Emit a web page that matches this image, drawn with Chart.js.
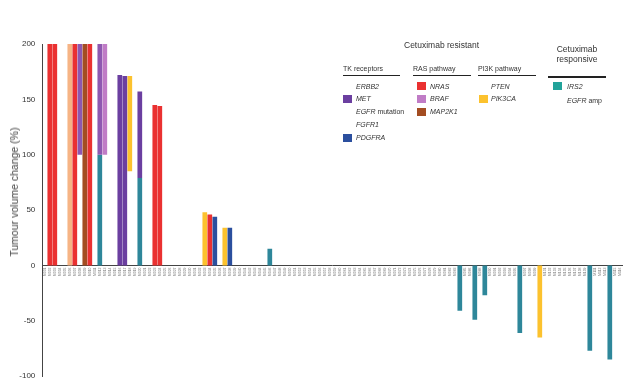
<!DOCTYPE html>
<html>
<head>
<meta charset="utf-8">
<script src="https://cdn.jsdelivr.net/npm/chart.js@4/dist/chart.umd.min.js"></script>
<style>
  body { margin: 0; background: #fff; font-family: Arial, "Liberation Sans", sans-serif; color: #333; }
  #wrap { position: relative; width: 640px; height: 388px; }
  canvas { position: absolute; left: 0; top: 0; }
  .t { position: absolute; white-space: nowrap; line-height: 9px; font-size: 7px; }
  .h { font-size: 8.5px; line-height: 9.5px; }
  .i { font-style: italic; }
  .sw { position: absolute; width: 9px; height: 8px; }
  .ul { position: absolute; height: 1.5px; background: #222; }
  #ytitle { position: absolute; left: 14px; top: 192px; font-size: 10.5px; white-space: nowrap; color: #444;
            font-weight: normal; transform: translate(-50%, -50%) rotate(-90deg); }
</style>
</head>
<body>
<div id="wrap">
  <canvas id="myChart" width="640" height="388"></canvas>
  <div id="ytitle">Tumour volume change (%)</div>

  <div class="t h" style="left:404px; top:41px;">Cetuximab resistant</div>
  <div class="t h" style="left:545px; top:45px; width:64px; text-align:center;">Cetuximab<br>responsive</div>

  <div class="t" style="left:343px; top:64px;">TK receptors</div>
  <div class="t" style="left:413px; top:64px;">RAS pathway</div>
  <div class="t" style="left:478px; top:64px;">PI3K pathway</div>
  <div class="ul" style="left:343px; top:74.5px; width:57px;"></div>
  <div class="ul" style="left:413px; top:74.5px; width:58px;"></div>
  <div class="ul" style="left:478px; top:74.5px; width:58px;"></div>
  <div class="ul" style="left:548px; top:76px; width:58px;"></div>

  <div class="t i" style="left:356px; top:81.5px;">ERBB2</div>
  <div class="sw" style="left:343px; top:95px; background:#6b3fa0;"></div>
  <div class="t i" style="left:356px; top:94.2px;">MET</div>
  <div class="t" style="left:356px; top:107.2px;"><i>EGFR</i> mutation</div>
  <div class="t i" style="left:356px; top:119.8px;">FGFR1</div>
  <div class="sw" style="left:343px; top:133.5px; background:#2b4f9e;"></div>
  <div class="t i" style="left:356px; top:133.2px;">PDGFRA</div>

  <div class="sw" style="left:417px; top:82px; background:#ea3131;"></div>
  <div class="t i" style="left:430px; top:81.5px;">NRAS</div>
  <div class="sw" style="left:417px; top:95px; background:#c07cc6;"></div>
  <div class="t i" style="left:430px; top:94.2px;">BRAF</div>
  <div class="sw" style="left:417px; top:108px; background:#a34d22;"></div>
  <div class="t i" style="left:430px; top:107.2px;">MAP2K1</div>

  <div class="t i" style="left:491px; top:81.5px;">PTEN</div>
  <div class="sw" style="left:479px; top:95px; background:#fcc22e;"></div>
  <div class="t i" style="left:491px; top:94.2px;">PIK3CA</div>

  <div class="sw" style="left:553px; top:82px; background:#22a39a;"></div>
  <div class="t i" style="left:567px; top:81.5px;">IRS2</div>
  <div class="t" style="left:567px; top:95.5px;"><i>EGFR</i> amp</div>
</div>

<script>
// sample labels (unreadable in the source, placeholder IDs)
const categories = Array.from({ length: 116 }, (_, i) => 'M' + String(i + 1).padStart(3, '0'));

// one entry per bar segment
const barIndex = [1, 2, 5, 6, 7, 8, 9, 11, 11, 12, 15, 16, 17, 19, 19, 22, 23, 32, 33, 34, 36, 37, 45, 83, 86, 88, 95, 99, 109, 113];
const barLow  = [0, 0, 0, 0, 100, 0, 0, 0, 100, 100, 0, 0, 85, 0, 79, 0, 0, 0, 0, 0, 0, 0, 0, -41, -49, -27, -61, -65, -77, -85];
const barHigh = [200, 200, 200, 200, 200, 200, 200, 100, 200, 200, 172, 171, 171, 79, 157, 145, 144, 48, 46, 44, 34, 34, 15, 0, 0, 0, 0, 0, 0, 0];
const barGene = ['NRAS', 'NRAS', 'ERBB2', 'NRAS', 'BRAF/MET', 'MAP2K1', 'NRAS', 'IRS2', 'BRAF/MET', 'BRAF',
                 'MET', 'MET', 'PIK3CA', 'IRS2', 'MET', 'NRAS', 'NRAS', 'PIK3CA', 'NRAS', 'PDGFRA',
                 'PIK3CA', 'PDGFRA', 'IRS2', 'IRS2', 'IRS2', 'IRS2', 'IRS2', 'PIK3CA', 'IRS2', 'IRS2'];

const geneColors = {
    'NRAS': '#ea3131',
    'ERBB2': '#f6b485',
    'BRAF/MET': '#8e58b0',
    'MAP2K1': '#a34d22',
    'IRS2': '#2e879a',
    'BRAF': '#c07cc6',
    'MET': '#6b3fa0',
    'PIK3CA': '#fcc22e',
    'PDGFRA': '#2b4f9e'
};

function buildDatasets()
{
    let genes = [...new Set(barGene)];
    return genes.map(gene => {
        let data = categories.map(() => null);
        barIndex.forEach((idx, k) => {
            if (barGene[k] === gene) data[idx] = [barLow[k], barHigh[k]];
        });
        return {
            label: gene,
            data: data,
            backgroundColor: geneColors[gene],
            borderWidth: 0,
            barPercentage: 0.94,
            categoryPercentage: 1
        };
    });
}

const ctx = document.getElementById('myChart').getContext('2d');
Chart.defaults.font.family = 'Arial, "Liberation Sans", sans-serif';

const myChart = new Chart(ctx, {
    type: 'bar',
    data: {
        labels: categories,
        datasets: buildDatasets()
    },
    options: {
        responsive: false,
        animation: false,
        layout: { padding: { left: 0, right: 17.7, top: 44, bottom: 11.5 } },
        plugins: {
            legend: { display: false },
            tooltip: { enabled: false }
        },
        scales: {
            x: {
                stacked: true,
                position: { y: 0 },
                grid: { display: false, drawTicks: false },
                border: { color: '#444', width: 1 },
                ticks: {
                    autoSkip: false,
                    minRotation: 90,
                    maxRotation: 90,
                    padding: 2,
                    color: '#777',
                    font: { size: 3.5 }
                },
                afterFit: s => { s.height = 0; }
            },
            y: {
                min: -100,
                max: 200,
                ticks: { stepSize: 50, color: '#333', padding: 7, font: { size: 8 } },
                grid: { display: false, drawTicks: false },
                border: { color: '#444', width: 1 },
                afterFit: s => { s.width = 42.3; }
            }
        }
    }
});
</script>
</body>
</html>
